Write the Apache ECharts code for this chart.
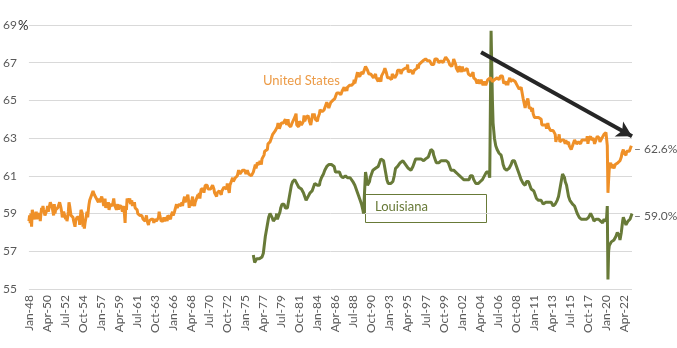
<!DOCTYPE html>
<html><head><meta charset="utf-8">
<script src="https://cdn.jsdelivr.net/npm/echarts@6/dist/echarts.min.js"></script>
<style>html,body{margin:0;padding:0;background:#fff}#c{width:677px;height:348px}</style>
</head><body><div id="c"></div>
<script>
// Monthly categories Jan-1948 .. Apr-2023
const monthNames = ['Jan','Feb','Mar','Apr','May','Jun','Jul','Aug','Sep','Oct','Nov','Dec'];
const startYear = 1948, nMonths = 904;
const categories = [];
for (let i = 0; i < nMonths; i++) {
  const y = startYear + Math.floor(i / 12);
  categories.push(monthNames[i % 12] + '-' + String(y).slice(2));
}
const yTicks = [55, 57, 59, 61, 63, 65, 67, 69];

// United States labor force participation rate (%), monthly
const us1948_59 = [
58.6,58.9,58.5,59.0,58.3,59.2,59.3,58.9,58.9,58.7,58.7,59.1,
58.7,58.9,58.9,58.8,59.0,58.6,59.0,59.3,59.1,59.4,59.2,59.2,
58.9,58.9,59.0,59.2,59.4,59.1,59.1,59.0,59.6,59.5,59.7,59.3,
59.2,58.9,59.5,59.0,59.2,59.3,59.1,59.3,59.2,59.4,59.6,59.5,
59.3,59.1,58.8,58.9,59.1,59.2,59.0,58.7,58.9,58.6,58.8,59.1,
59.6,59.4,59.3,58.9,58.9,59.0,58.8,58.6,58.6,58.3,58.6,58.7,
58.8,58.9,58.7,58.8,58.4,58.5,59.2,59.2,59.0,58.3,58.5,58.2,
58.5,58.4,58.6,59.1,58.8,59.2,59.5,59.7,59.6,59.8,60.0,59.9,
60.2,60.1,60.0,60.1,60.0,59.8,59.9,59.7,59.6,59.8,59.6,59.5,
59.6,59.9,60.0,59.6,59.4,59.5,59.8,59.3,59.5,59.3,59.4,59.6,
59.2,59.3,59.5,59.6,59.5,59.4,59.6,59.8,59.5,59.4,59.4,59.2,
59.3,59.5,59.2,59.4,59.4,59.3,59.4,59.3,59.1,59.4,59.2,59.0];
const us1960s = [
58.5,59.4,59.2,59.8,59.7,59.6,59.7,59.8,59.5,59.6,59.7,59.4,
59.6,59.4,59.6,59.3,59.4,59.3,59.2,59.0,59.0,59.1,58.9,58.8,
59.0,58.9,58.8,58.7,58.6,58.7,58.6,58.5,58.9,58.6,58.5,58.4,
58.6,58.5,58.6,58.7,58.8,58.6,58.7,58.5,58.7,58.7,58.8,58.6,
58.5,58.7,58.8,59.1,58.9,58.8,58.6,58.7,58.7,58.6,58.8,58.6,
58.7,58.6,58.8,58.6,58.9,58.9,58.8,58.8,58.7,58.9,59.0,59.1,
58.9,58.9,59.1,59.2,59.2,59.5,59.3,59.4,59.4,59.5,59.6,59.6,
59.4,59.6,59.4,59.6,59.7,59.9,59.6,59.7,59.8,59.7,60.0,59.7,
59.3,59.7,59.6,59.4,59.7,59.9,59.6,59.5,59.4,59.6,59.6,59.8,
59.8,60.0,59.8,60.1,59.8,60.1,60.3,60.2,60.4,60.3,60.1,60.3];
const us1970s = [
60.5,60.4,60.6,60.5,60.3,60.3,60.4,60.4,60.3,60.3,60.4,60.5,
60.4,60.3,60.1,60.0,60.2,59.9,60.1,60.2,60.1,60.2,60.2,60.2,
60.0,60.2,60.3,60.3,60.4,60.5,60.4,60.4,60.3,60.6,60.4,60.3,
60.1,60.5,60.6,60.7,60.6,60.9,60.7,60.6,60.8,60.9,61.0,60.9,
61.0,61.1,61.3,61.2,61.1,61.1,61.2,61.2,61.3,61.2,61.2,61.3,
61.3,61.1,61.2,61.3,61.3,61.1,61.2,61.1,61.1,61.0,61.0,61.0,
61.2,61.3,61.3,61.6,61.4,61.5,61.7,61.6,61.6,61.6,61.8,61.8,
61.6,61.9,62.0,61.9,62.1,62.3,62.2,62.4,62.4,62.4,62.7,62.8,
62.7,62.8,62.8,63.0,62.9,63.2,63.1,63.3,63.3,63.4,63.5,63.5,
63.6,63.8,63.8,63.5,63.5,63.6,63.8,63.8,63.7,63.8,63.8,63.9];
const us1980s = [
64.0,64.0,63.7,63.8,64.0,63.7,63.8,63.7,63.6,63.7,63.8,63.7,
63.9,63.9,64.1,64.2,64.3,63.7,63.8,63.8,63.6,63.9,63.9,63.8,
63.7,63.8,63.8,63.9,64.2,63.9,64.0,64.1,64.1,64.1,64.2,64.1,
63.9,63.8,63.7,63.8,63.8,64.3,64.1,64.3,64.3,64.0,64.1,64.1,
63.9,64.1,64.1,64.3,64.5,64.6,64.6,64.4,64.4,64.4,64.5,64.6,
64.7,64.7,64.9,64.9,64.8,64.6,64.7,64.6,64.9,64.9,64.9,65.0,
64.9,65.0,65.1,65.1,65.2,65.4,65.4,65.3,65.4,65.4,65.4,65.3,
65.4,65.5,65.5,65.4,65.7,65.5,65.6,65.7,65.5,65.7,65.7,65.7,
65.8,65.9,65.7,65.8,65.7,65.8,65.9,66.1,65.9,66.0,66.2,66.1,
66.5,66.3,66.3,66.4,66.3,66.5,66.5,66.5,66.4,66.5,66.6,66.5];
const us1990s = [
66.8,66.7,66.7,66.6,66.6,66.4,66.5,66.5,66.4,66.4,66.4,66.4,
66.2,66.2,66.3,66.4,66.2,66.2,66.1,66.0,66.2,66.1,66.1,66.0,
66.3,66.2,66.4,66.5,66.6,66.7,66.6,66.5,66.4,66.2,66.3,66.3,
66.2,66.2,66.2,66.1,66.4,66.5,66.4,66.4,66.2,66.3,66.3,66.4,
66.6,66.6,66.5,66.5,66.6,66.4,66.4,66.6,66.6,66.7,66.7,66.7,
66.8,66.8,66.7,66.9,66.5,66.5,66.6,66.6,66.6,66.6,66.5,66.4,
66.4,66.6,66.6,66.7,66.7,66.7,66.9,66.7,66.9,67.0,67.0,67.0,
67.0,66.9,67.1,67.1,67.1,67.1,67.2,67.1,67.1,67.1,67.1,67.2,
67.1,67.1,67.1,66.9,67.0,67.0,66.9,67.0,67.2,67.1,67.1,67.2,
67.2,67.2,67.0,67.1,67.1,67.1,67.0,67.0,67.0,67.0,67.1,67.1];
const us2000s = [
67.3,67.3,67.3,67.3,67.1,67.1,66.9,66.9,66.9,66.8,66.9,67.0,
67.2,67.1,67.2,66.9,66.7,66.7,66.8,66.5,66.8,66.7,66.7,66.7,
66.5,66.8,66.6,66.7,66.7,66.6,66.5,66.6,66.7,66.6,66.4,66.4,
66.4,66.4,66.3,66.4,66.4,66.5,66.2,66.1,66.1,66.1,66.1,65.9,
66.1,66.0,66.0,65.9,66.0,66.1,66.1,66.0,65.8,65.9,66.0,65.9,
65.8,65.9,65.9,66.1,66.1,66.1,66.1,66.2,66.1,66.1,66.0,66.0,
66.0,66.1,66.2,66.1,66.1,66.2,66.1,66.2,66.1,66.2,66.3,66.4,
66.4,66.3,66.2,65.9,66.0,66.0,66.0,65.8,66.0,65.8,66.0,66.0,
66.2,66.0,66.1,65.9,66.1,66.1,66.1,66.1,66.0,66.0,65.9,65.8,
65.7,65.8,65.6,65.7,65.7,65.7,65.5,65.4,65.1,65.0,65.0,64.6];
const us2010s = [
64.8,64.9,64.9,65.1,64.9,64.6,64.6,64.7,64.6,64.4,64.6,64.3,
64.2,64.1,64.2,64.2,64.1,64.0,64.0,64.1,64.2,64.1,64.1,64.0,
63.7,63.8,63.8,63.7,63.8,63.8,63.7,63.5,63.6,63.8,63.6,63.7,
63.6,63.4,63.3,63.4,63.4,63.4,63.3,63.3,63.2,62.8,63.0,62.9,
62.9,63.0,63.2,62.8,62.8,62.8,62.9,62.9,62.8,62.9,62.9,62.7,
62.9,62.7,62.7,62.7,62.8,62.6,62.6,62.6,62.4,62.5,62.5,62.7,
62.8,62.9,63.0,62.8,62.7,62.8,62.8,62.8,62.9,62.8,62.7,62.7,
62.9,62.9,63.0,62.9,62.8,62.9,62.9,62.9,63.1,62.7,62.9,62.9,
63.0,63.1,62.9,62.9,62.8,63.0,62.9,62.7,62.8,62.9,63.0,63.1,
63.1,63.1,63.0,62.8,62.9,62.9,63.0,63.1,63.1,63.2,63.2,63.1];
const us2020s = [
63.3,63.3,62.6,60.1,60.8,61.4,61.5,61.7,61.4,61.6,61.5,61.5,
61.4,61.4,61.6,61.7,61.6,61.6,61.7,61.7,61.7,61.8,61.9,62.0,
62.2,62.3,62.4,62.2,62.3,62.2,62.1,62.3,62.3,62.2,62.2,62.3,
62.4,62.5,62.6,62.6];

// Louisiana labor force participation rate (%), monthly from Jan-1976
const laStartIndex = 336;
const la1976_89 = [
56.8,56.6,56.4,56.4,56.5,56.6,56.6,56.6,56.6,56.6,56.6,56.6,
56.6,56.7,56.8,56.9,57.2,57.5,57.8,58.0,58.2,58.4,58.6,58.8,
58.9,59.0,59.0,58.9,58.8,58.7,58.6,58.6,58.7,58.7,58.8,59.0,
58.7,58.8,58.9,59.0,59.1,59.3,59.4,59.5,59.6,59.6,59.5,59.4,
59.3,59.2,59.2,59.3,59.5,59.7,59.9,60.1,60.3,60.5,60.6,60.7,
60.8,60.8,60.8,60.8,60.7,60.6,60.5,60.5,60.4,60.4,60.3,60.3,
60.3,60.2,60.2,60.1,60.0,59.9,59.8,59.7,59.7,59.8,59.9,60.0,
60.0,60.1,60.2,60.2,60.2,60.3,60.4,60.5,60.6,60.6,60.6,60.6,
60.5,60.4,60.4,60.5,60.7,60.8,60.9,61.0,61.0,61.1,61.2,61.3,
61.3,61.4,61.5,61.6,61.6,61.6,61.6,61.7,61.7,61.6,61.6,61.6,
61.6,61.5,61.4,61.2,61.1,61.1,61.2,61.2,61.3,61.2,61.1,61.0,
61.0,61.0,60.9,60.9,61.0,61.0,61.0,61.0,61.0,60.9,60.9,60.9,
60.9,60.9,60.9,60.8,60.8,60.7,60.7,60.6,60.5,60.4,60.3,60.2,
60.1,60.0,59.9,59.8,59.7,59.6,59.5,59.4,59.2,59.0,59.0,59.1];
const la1990s = [
61.2,61.0,60.7,60.5,60.4,60.5,60.7,60.9,61.0,61.1,61.2,61.3,
61.3,61.4,61.4,61.4,61.4,61.4,61.4,61.5,61.6,61.7,61.8,61.9,
61.9,62.0,62.0,61.8,61.6,61.4,61.2,61.0,60.8,60.7,60.6,60.6,
60.6,60.6,60.6,60.6,60.6,60.7,60.8,61.0,61.2,61.4,61.5,61.5,
61.5,61.5,61.6,61.6,61.7,61.7,61.7,61.7,61.8,61.8,61.7,61.7,
61.6,61.6,61.5,61.5,61.4,61.4,61.3,61.3,61.3,61.3,61.4,61.5,
61.6,61.7,61.8,61.9,61.9,61.9,61.9,61.9,61.9,61.9,61.9,61.9,
61.9,61.8,61.8,61.8,61.9,61.9,61.9,61.9,62.0,62.0,62.0,62.1,
62.2,62.3,62.4,62.5,62.5,62.3,62.1,62.0,61.9,61.8,61.7,61.7,
61.7,61.7,61.7,61.7,61.7,61.8,61.8,61.8,61.8,61.8,61.8,61.8];
const la2000s = [
61.8,61.8,61.8,61.8,61.7,61.6,61.5,61.4,61.3,61.3,61.3,61.3,
61.3,61.3,61.3,61.2,61.2,61.2,61.1,61.1,61.1,61.0,61.0,61.0,
60.9,60.9,60.9,60.8,60.8,60.8,60.8,60.8,60.8,60.8,60.8,60.8,
60.9,61.0,61.1,61.1,61.0,60.9,60.8,60.7,60.7,60.6,60.6,60.6,
60.6,60.6,60.6,60.6,60.7,60.7,60.7,60.8,60.8,60.9,61.0,61.1,
61.1,61.2,61.2,61.3,61.2,61.3,60.9,61.0,68.7,68.6,65.0,63.8,
63.4,63.0,62.8,62.6,62.5,62.4,62.3,62.3,62.2,62.2,62.2,62.1,
62.0,61.8,61.6,61.5,61.4,61.3,61.3,61.3,61.3,61.4,61.4,61.4,
61.4,61.5,61.6,61.7,61.8,61.8,61.7,61.8,61.7,61.6,61.5,61.4,
61.3,61.2,61.1,61.0,60.9,60.8,60.8,60.7,60.6,60.5,60.5,60.5];
const la2010s = [
60.6,60.7,60.8,60.8,60.7,60.6,60.5,60.4,60.3,60.3,60.2,60.2,
60.2,60.1,60.0,59.9,59.8,59.7,59.7,59.7,59.7,59.7,59.7,59.7,
59.7,59.6,59.5,59.5,59.5,59.5,59.6,59.6,59.6,59.6,59.6,59.6,
59.6,59.6,59.6,59.5,59.5,59.4,59.4,59.4,59.5,59.5,59.6,59.7,
59.8,59.9,60.1,60.3,60.5,60.7,60.9,61.1,61.2,61.1,60.9,60.7,
60.6,60.5,60.3,60.1,59.9,59.8,59.7,59.7,59.6,59.6,59.5,59.5,
59.5,59.4,59.3,59.2,59.1,59.0,58.9,58.9,58.8,58.8,58.8,58.7,
58.7,58.7,58.7,58.7,58.7,58.7,58.7,58.7,58.7,58.7,58.8,58.8,
58.9,59.0,59.1,59.0,58.8,58.7,58.6,58.6,58.6,58.7,58.7,58.7,
58.7,58.7,58.8,58.7,58.6,58.6,58.6,58.5,58.6,58.7,58.7,58.7];
const la2020s = [
58.6,58.8,59.4,55.5,57.0,57.3,57.4,57.4,57.5,57.5,57.6,57.6,
57.6,57.7,57.7,57.8,57.9,58.0,58.1,58.0,57.8,57.6,57.7,58.0,
58.3,58.6,58.8,58.7,58.6,58.5,58.4,58.4,58.5,58.6,58.6,58.6,
58.7,58.8,58.9,59.0];

const usValues = [].concat(us1948_59, us1960s, us1970s, us1980s, us1990s, us2000s, us2010s, us2020s);
const laValues = [].concat(la1976_89, la1990s, la2000s, la2010s, la2020s);
const laData = laValues.map((v, i) => [i + laStartIndex, v]);

const US_COLOR = '#EF9028', LA_COLOR = '#687A38';
const chart = echarts.init(document.getElementById('c'), null, {renderer: 'canvas'});
const FONT = 'Lato, "Open Sans", sans-serif';
chart.setOption({
  animation: false,
  grid: {left: 28, right: 45, top: 25, bottom: 59},
  xAxis: {
    type: 'category', data: categories, boundaryGap: false,
    axisLine: {show: false}, axisTick: {show: false},
    axisLabel: {interval: 26, rotate: 90, color: '#595959', fontSize: 12, fontFamily: FONT, margin: 6},
    splitLine: {show: false}
  },
  yAxis: {
    type: 'value', min: yTicks[0], max: yTicks[yTicks.length - 1], interval: 2,
    axisLine: {show: false}, axisTick: {show: false},
    axisLabel: {color: '#595959', fontSize: 12, fontFamily: FONT, margin: 12},
    splitLine: {lineStyle: {color: '#D9D9D9', width: 1}}
  },
  graphic: [
    {type: 'text', left: 18, top: 19, style: {text: '%', fill: '#262626', font: '13px ' + FONT}},
    {type: 'text', left: 263, top: 74, style: {text: 'United States', fill: '#EC9B47', font: '13px ' + FONT}},
    {type: 'rect', shape: {x: 365.5, y: 194.5, width: 121, height: 28}, style: {fill: 'none', stroke: LA_COLOR, lineWidth: 1}},
    {type: 'text', left: 375, top: 200, style: {text: 'Louisiana', fill: LA_COLOR, font: '13px ' + FONT}}
  ],
  series: [
    {
      name: 'United States', type: 'line', data: usValues, showSymbol: false, clip: false,
      lineStyle: {color: US_COLOR, width: 3}, itemStyle: {color: US_COLOR}, z: 3,
      endLabel: {show: true, formatter: p => '– ' + p.value.toFixed(1) + '%', color: '#595959', fontSize: 12, fontFamily: FONT, distance: 2, offset: [0, 3]},
      markLine: {
        silent: true, symbol: ['none', 'arrow'], symbolSize: [13, 15],
        lineStyle: {color: '#262626', width: 4, type: 'solid'},
        label: {show: false},
        data: [[{coord: [677, 67.55]}, {coord: [903, 63.1]}]]
      }
    },
    {
      name: 'Louisiana', type: 'line', data: laData, showSymbol: false, clip: false,
      lineStyle: {color: LA_COLOR, width: 3}, itemStyle: {color: LA_COLOR}, z: 2,
      endLabel: {show: true, formatter: p => '– ' + p.value[1].toFixed(1) + '%', color: '#595959', fontSize: 12, fontFamily: FONT, distance: 2, offset: [0, 3]}
    }
  ]
});
</script></body></html>
